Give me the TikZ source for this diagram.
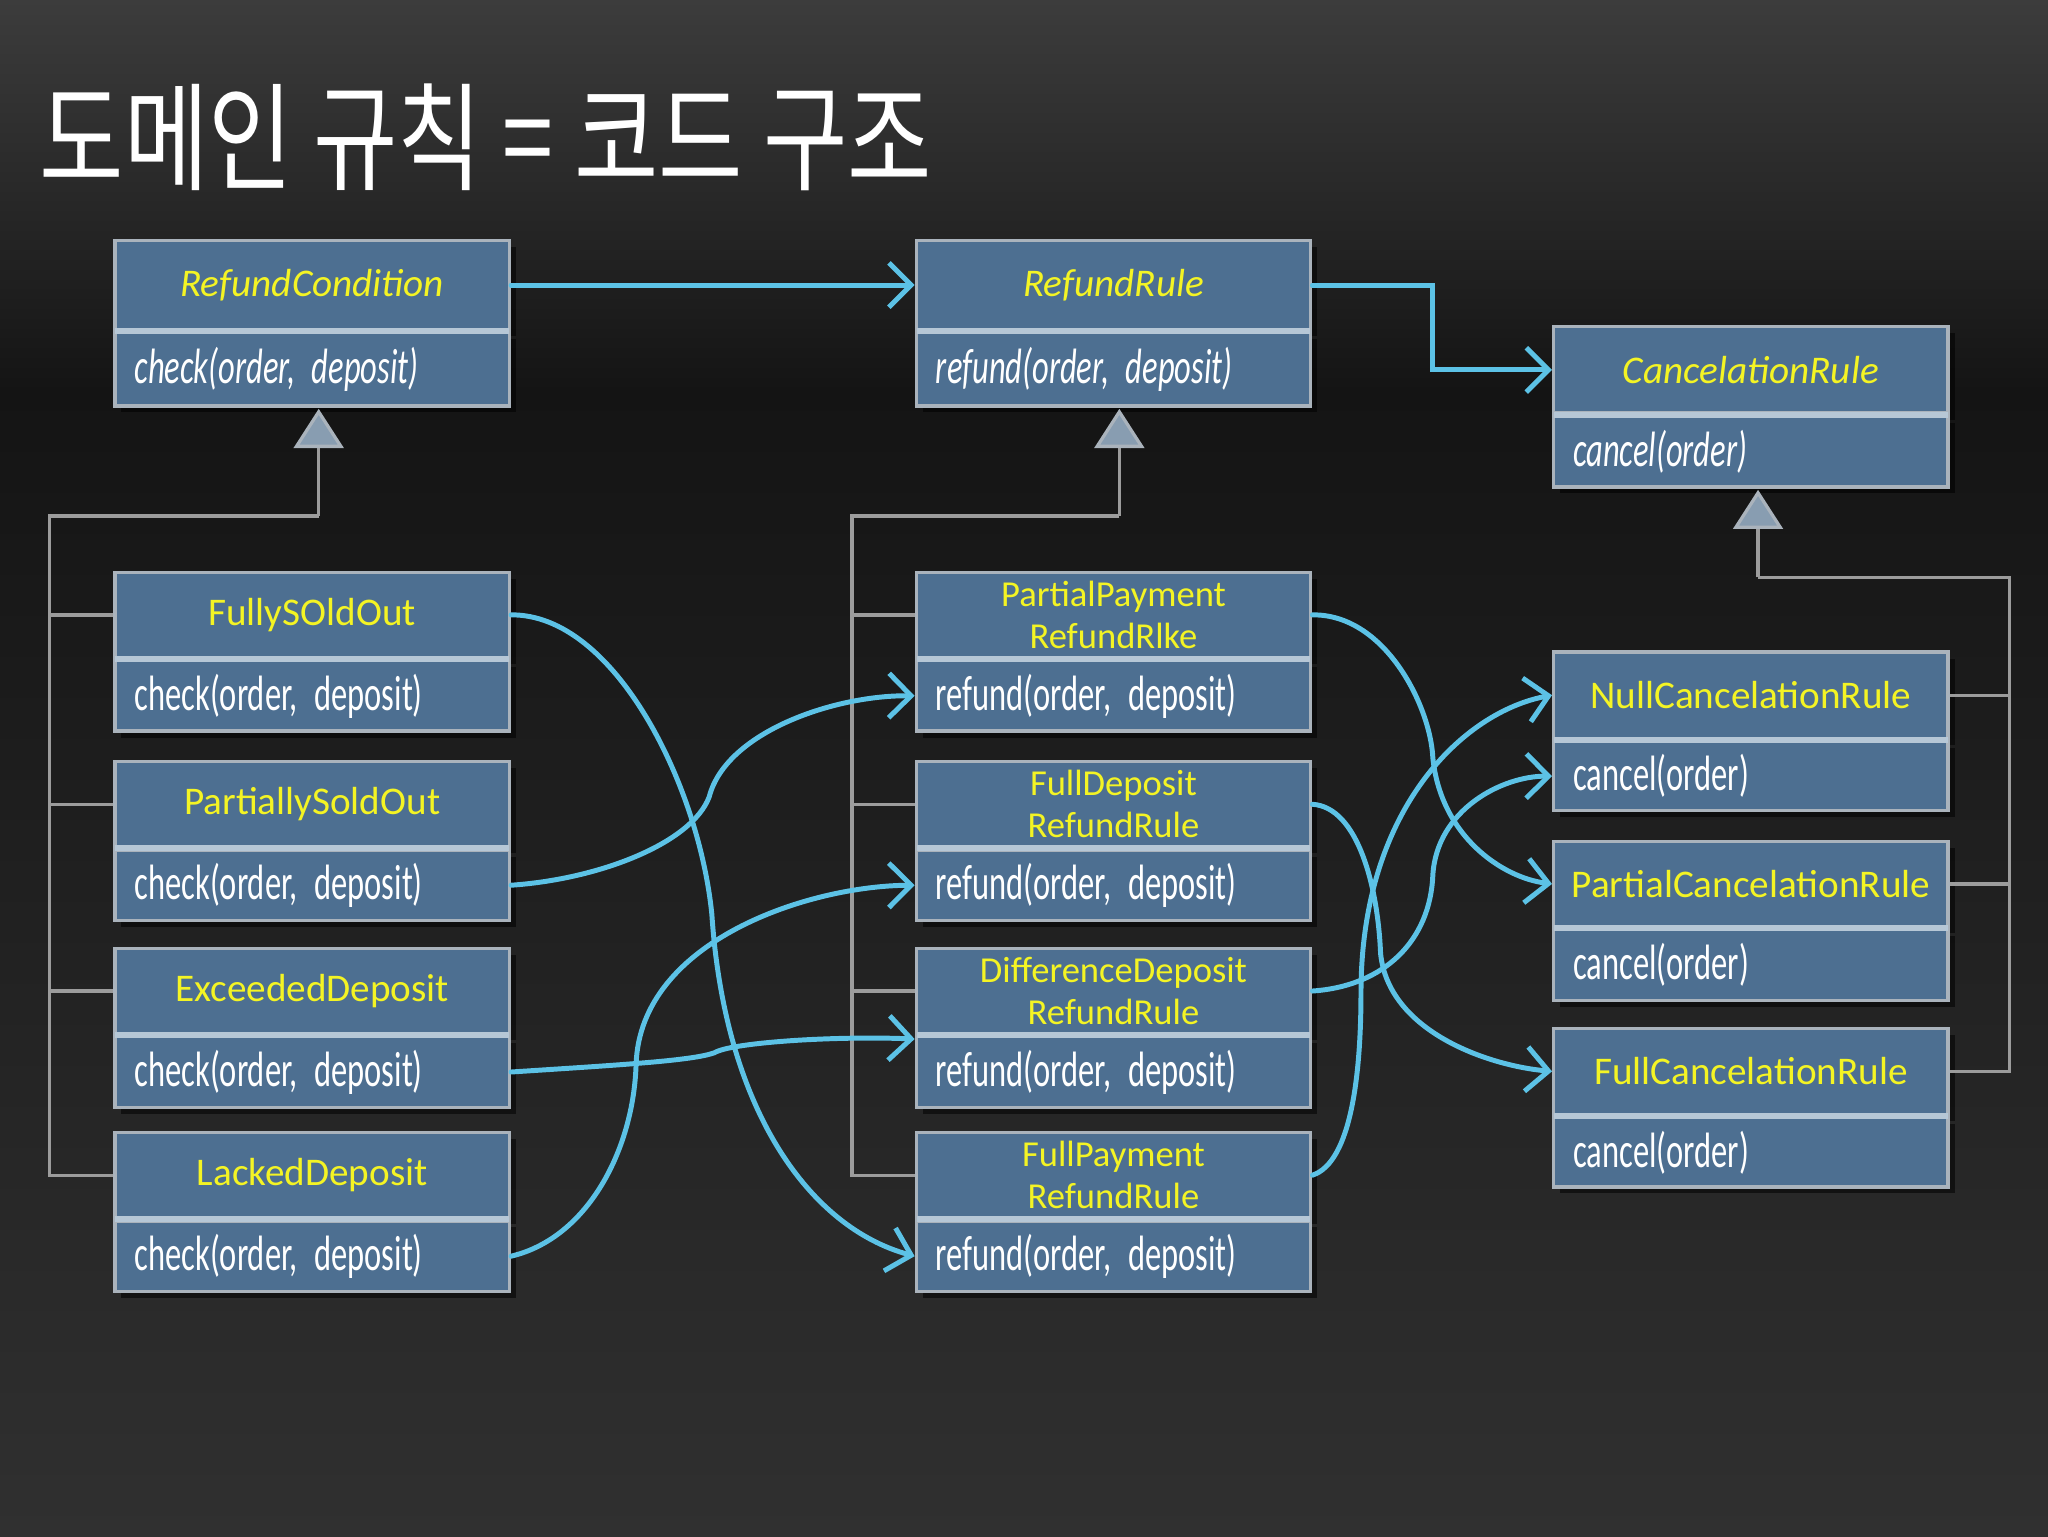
\documentclass[tikz,border=0pt]{standalone}
\usepackage{fontspec}
\setmainfont{Carlito}
\newfontfamily\bodyfont[FakeStretch=0.655]{Carlito}
\newfontfamily\cjk{Noto Sans CJK KR}
\usetikzlibrary{arrows.meta,shadows,calc}
\definecolor{bgtop}{HTML}{3C3C3C}
\definecolor{bgmid}{HTML}{141414}
\definecolor{bgbot}{HTML}{303030}
\definecolor{boxfill}{HTML}{4D6F91}
\definecolor{boxline}{HTML}{AAB3BC}
\definecolor{divcol}{HTML}{B6C7D6}
\definecolor{hdryellow}{HTML}{F4F424}
\definecolor{inhgray}{HTML}{9C9C9C}
\definecolor{trifill}{HTML}{889DB1}
\definecolor{flowblue}{HTML}{5CC2E6}
\tikzset{
  boxbase/.style={draw=boxline, line width=2.5pt, fill=boxfill, minimum width=302pt, anchor=north,
    drop shadow={shadow xshift=5pt, shadow yshift=-5pt, opacity=0.55, fill=black}},
  hdr/.style={boxbase, text=hdryellow, font=\fontsize{30}{32}\selectfont, align=center, inner sep=0pt},
  hdrtwo/.style={hdr, font=\fontsize{28}{32}\selectfont},
  bdy/.style={boxbase, text width=272pt, inner xsep=15pt, inner ysep=0pt, text=white,
    font=\bodyfont\fontsize{38}{40}\selectfont, align=left},
  divider/.style={draw=divcol, line width=4.5pt},
  inh/.style={draw=inhgray, line width=2.5pt},
  gen/.style={inh, -{Triangle[width=38pt,length=30pt,fill=trifill,color=boxline]}},
  flow/.style={draw=flowblue, line width=3.8pt, line cap=round,
    -{Straight Barb[length=17pt,width=34pt,line width=3.8pt]}},
  title/.style={text=white, font=\cjk\fontsize{90}{100}\selectfont, inner sep=0pt}
}
\begin{document}
\begin{tikzpicture}[x=1pt,y=-1pt]
% background
\useasboundingbox (0,0) rectangle (1568,1176);
\fill[top color=bgtop, bottom color=bgmid] (0,0) rectangle (1568,300);
\fill[top color=bgmid, bottom color=bgbot] (0,299) rectangle (1568,1176);

% title
\node[title] (title) at (372,105) {\scalebox{0.78}[1]{도메인 규칙 = 코드 구조}};

% top row
\node[hdr, minimum height=68pt] (rch) at (239,183) {\itshape RefundCondition};
\node[bdy, minimum height=56pt] (rcb) at (rch.south) {\itshape check(order, deposit)};
\node[hdr, minimum height=68pt] (rrh) at (852.5,183) {\itshape RefundRule};
\node[bdy, minimum height=56pt] (rrb) at (rrh.south) {\itshape refund(order, deposit)};
\node[hdr, minimum height=66pt] (crh) at (1340.5,249) {\itshape CancelationRule};
\node[bdy, minimum height=54pt] (crb) at (crh.south) {\itshape cancel(order)};

% left column
\node[hdr, minimum height=65pt] (fsoh) at (239,437) {FullySOldOut};
\node[bdy, minimum height=54pt] (fsob) at (fsoh.south) {check(order, deposit)};
\node[hdr, minimum height=65pt] (psoh) at (239,582) {PartiallySoldOut};
\node[bdy, minimum height=54pt] (psob) at (psoh.south) {check(order, deposit)};
\node[hdr, minimum height=65pt] (edh) at (239,725) {ExceededDeposit};
\node[bdy, minimum height=54pt] (edb) at (edh.south) {check(order, deposit)};
\node[hdr, minimum height=65pt] (ldh) at (239,866) {LackedDeposit};
\node[bdy, minimum height=54pt] (ldb) at (ldh.south) {check(order, deposit)};

% middle column
\node[hdrtwo, minimum height=65pt] (pph) at (852.5,437) {PartialPayment\\RefundRlke};
\node[bdy, minimum height=54pt] (ppb) at (pph.south) {refund(order, deposit)};
\node[hdrtwo, minimum height=65pt] (fdh) at (852.5,582) {FullDeposit\\RefundRule};
\node[bdy, minimum height=54pt] (fdb) at (fdh.south) {refund(order, deposit)};
\node[hdrtwo, minimum height=65pt] (ddh) at (852.5,725) {DifferenceDeposit\\RefundRule};
\node[bdy, minimum height=54pt] (ddb) at (ddh.south) {refund(order, deposit)};
\node[hdrtwo, minimum height=65pt] (fph) at (852.5,866) {FullPayment\\RefundRule};
\node[bdy, minimum height=54pt] (fpb) at (fph.south) {refund(order, deposit)};

% right column
\node[hdr, minimum height=66pt] (nch) at (1340.5,498) {NullCancelationRule};
\node[bdy, minimum height=53pt] (ncb) at (nch.south) {cancel(order)};
\node[hdr, minimum height=65pt] (pch) at (1340.5,643) {PartialCancelationRule};
\node[bdy, minimum height=54pt] (pcb) at (pch.south) {cancel(order)};
\node[hdr, minimum height=66pt] (fch) at (1340.5,786) {FullCancelationRule};
\node[bdy, minimum height=53pt] (fcb) at (fch.south) {cancel(order)};

% dividers
\foreach \n in {rch,rrh,crh,fsoh,psoh,edh,ldh,pph,fdh,ddh,fph,nch,pch,fch}
  \draw[divider] ([xshift=1.5pt]\n.south west) -- ([xshift=-1.5pt]\n.south east);

% inheritance: left
\coordinate (lj) at (244,395);
\draw[gen] (lj) -- ($(lj |- rcb.south)+(0,1)$);
\draw[inh] (lj) -| ($(ldh.west)+(-49,0)$) -- (ldh.west);
\draw[inh] (fsoh.west) -- ++(-49,0);
\draw[inh] (psoh.west) -- ++(-49,0);
\draw[inh] (edh.west) -- ++(-49,0);

% inheritance: middle
\coordinate (mj) at (857,395);
\draw[gen] (mj) -- ($(mj |- rrb.south)+(0,1)$);
\draw[inh] (mj) -| ($(fph.west)+(-48,0)$) -- (fph.west);
\draw[inh] (pph.west) -- ++(-48,0);
\draw[inh] (fdh.west) -- ++(-48,0);
\draw[inh] (ddh.west) -- ++(-48,0);

% inheritance: right
\coordinate (rj) at (1346,442);
\draw[gen] (rj) -- ($(rj |- crb.south)+(0,1)$);
\draw[inh] (rj) -| ($(fch.east)+(46,0)$) -- (fch.east);
\draw[inh] (nch.east) -- ++(46,0);
\draw[inh] (pch.east) -- ++(46,0);

% associations
\draw[flow] (rch.east) -- (rrh.west);
\coordinate (bend) at (1097,216);
\draw[flow] (rrh.east) -- (rrh.east -| bend) |- (crh.west);

\draw[flow] (fsoh.east) .. controls (470,470) and (535,600) .. (545,700)
  .. controls (555,850) and (620,940) .. (fpb.west);
\draw[flow] (psob.east) .. controls (460,673) and (530,645) .. (543,610)
  .. controls (556,560) and (640,532) .. (ppb.west);
\draw[flow] (edb.east) .. controls (480,815) and (530,812) .. (547,806)
  .. controls (560,798) and (640,793) .. ($(ddb.north west)+(0,3)$);
\draw[flow] (ldb.east) .. controls (450,948) and (485,880) .. (487,815)
  .. controls (490,720) and (620,678) .. (fdb.west);

\draw[flow] (pph.east) .. controls (1060,470) and (1095,540) .. (1097,580)
  .. controls (1103,640) and (1150,672) .. (pch.west);
\draw[flow] (fdh.east) .. controls (1040,618) and (1055,680) .. (1057,730)
  .. controls (1063,790) and (1140,816) .. (fch.west);
\draw[flow] (ddh.east) .. controls (1060,755) and (1095,720) .. (1097,670)
  .. controls (1100,620) and (1150,594) .. (ncb.west);
\draw[flow] (fph.east) .. controls (1035,890) and (1042,820) .. (1042,760)
  .. controls (1042,620) and (1120,545) .. (nch.west);
\end{tikzpicture}
\end{document}
